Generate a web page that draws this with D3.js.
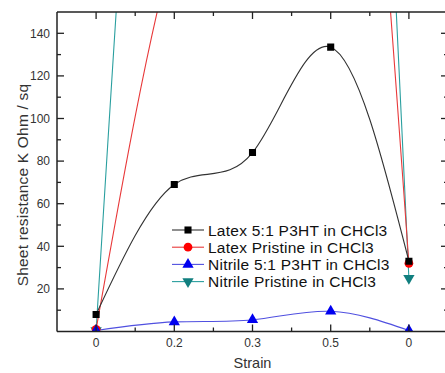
<!DOCTYPE html>
<html><head><meta charset="utf-8">
<script src="https://cdn.jsdelivr.net/npm/d3@7"></script>
<style>body{margin:0;background:#fff;font-family:"Liberation Sans",Arial,sans-serif;}</style>
</head><body><svg id="c" width="445" height="373"></svg>
<script>
const categories = ["0", "0.2", "0.3", "0.5", "0"];
const latexP3HT = [8, 69, 84, 133.5, 33];
const latexPristine = [1, 182, 300, 413, 32];
const nitrileP3HT = [0.5, 4.5, 5.5, 9.5, 0.5];
const nitrilePristine = [0.5, 487, 600, 635, 25];
const yTicks = [20, 40, 60, 80, 100, 120, 140];
const seriesNames = ["Latex 5:1 P3HT in CHCl3", "Latex Pristine in CHCl3", "Nitrile 5:1 P3HT in CHCl3", "Nitrile Pristine in CHCl3"];

const svg = d3.select("#c");
const L = 57, R = 448, T = 12, B = 331.5;
const x = d3.scaleLinear().domain([-0.5, categories.length - 0.5]).range([L, R]);
const y = d3.scaleLinear().domain([0, 150]).range([B, T]);
const axisColor = "#222";

svg.append("defs").append("clipPath").attr("id", "clip")
  .append("rect").attr("x", L).attr("y", T).attr("width", R - L).attr("height", B - T);

const series = [
  {name: seriesNames[0], data: latexP3HT, line: "#333", fill: "#000", sym: d3.symbolSquare, size: 50},
  {name: seriesNames[1], data: latexPristine, line: "#e8393a", fill: "#f00", sym: d3.symbolCircle, size: 60},
  {name: seriesNames[2], data: nitrileP3HT, line: "#5050e0", fill: "#0000f0", sym: d3.symbolTriangle, size: 55},
  {name: seriesNames[3], data: nitrilePristine, line: "#2a9f9f", fill: "#117f7f", sym: d3.symbolTriangle, size: 55, rot: 180}
];

const plot = svg.append("g").attr("clip-path", "url(#clip)");
const line = d3.line().x((d, i) => x(i)).y(d => y(d)).curve(d3.curveNatural);
[3, 1, 0, 2].forEach(k => {
  const s = series[k];
  plot.append("path").attr("d", line(s.data)).attr("fill", "none").attr("stroke", s.line).attr("stroke-width", 1.1);
});
[3, 1, 0, 2].forEach(k => {
  const s = series[k];
  plot.selectAll(null).data(s.data).enter().append("path")
    .attr("d", d3.symbol().type(s.sym).size(s.size))
    .attr("transform", (d, i) => `translate(${x(i)},${y(d)})` + (s.rot ? ` rotate(${s.rot})` : ""))
    .attr("fill", s.fill);
});

// axes
const idx = d3.range(categories.length);
const minorX = idx.slice(0, -1).map(i => i + 0.5);
const minorY = d3.range(10, 150, 20);
const ax = svg.append("g").attr("stroke", axisColor).attr("stroke-width", 1.5);
ax.append("line").attr("x1", L).attr("x2", R).attr("y1", B).attr("y2", B);
ax.append("line").attr("x1", L).attr("x2", R).attr("y1", T).attr("y2", T);
ax.append("line").attr("x1", L).attr("x2", L).attr("y1", T).attr("y2", B);
ax.append("line").attr("x1", R).attr("x2", R).attr("y1", T).attr("y2", B);
const ticks = svg.append("g").attr("stroke", axisColor).attr("stroke-width", 1.3);
idx.forEach(i => {
  ticks.append("line").attr("x1", x(i)).attr("x2", x(i)).attr("y1", B).attr("y2", B - 7);
  ticks.append("line").attr("x1", x(i)).attr("x2", x(i)).attr("y1", T).attr("y2", T + 7);
});
minorX.forEach(v => {
  ticks.append("line").attr("x1", x(v)).attr("x2", x(v)).attr("y1", B).attr("y2", B - 4);
  ticks.append("line").attr("x1", x(v)).attr("x2", x(v)).attr("y1", T).attr("y2", T + 4);
});
yTicks.forEach(v => {
  ticks.append("line").attr("x1", L).attr("x2", L + 7).attr("y1", y(v)).attr("y2", y(v));
  ticks.append("line").attr("x1", R).attr("x2", R - 7).attr("y1", y(v)).attr("y2", y(v));
});
minorY.forEach(v => {
  ticks.append("line").attr("x1", L).attr("x2", L + 4).attr("y1", y(v)).attr("y2", y(v));
  ticks.append("line").attr("x1", R).attr("x2", R - 4).attr("y1", y(v)).attr("y2", y(v));
});

const tf = svg.append("g").attr("font-size", 12).attr("fill", "#333");
yTicks.forEach(v => {
  tf.append("text").attr("x", L - 7).attr("y", y(v)).attr("dy", "0.35em").attr("text-anchor", "end").text(v);
});
idx.forEach(i => {
  tf.append("text").attr("x", x(i)).attr("y", B + 15.5).attr("text-anchor", "middle").text(categories[i]);
});
svg.append("text").attr("x", x(2)).attr("y", 368).attr("text-anchor", "middle").attr("font-size", 14.5).attr("fill", "#333").text("Strain");
svg.append("text").attr("transform", `translate(28,185) rotate(-90)`).attr("text-anchor", "middle")
  .attr("font-size", 15.5).attr("letter-spacing", 0.2).attr("fill", "#333").text("Sheet resistance K Ohm / sq");

// legend
const lg = svg.append("g").attr("transform", "translate(172,230)");
series.forEach((s, k) => {
  const g = lg.append("g").attr("transform", `translate(0,${k * 17.2})`);
  g.append("line").attr("x1", 0).attr("x2", 32).attr("stroke", s.line).attr("stroke-width", 1.1);
  g.append("path").attr("d", d3.symbol().type(s.sym).size(s.size)).attr("transform", `translate(16,0)` + (s.rot ? ` rotate(${s.rot})` : "")).attr("fill", s.fill);
  g.append("text").attr("x", 36).attr("dy", "0.36em").attr("font-size", 15.5).attr("letter-spacing", 0.25).attr("fill", "#111").text(s.name);
});
</script></body></html>
